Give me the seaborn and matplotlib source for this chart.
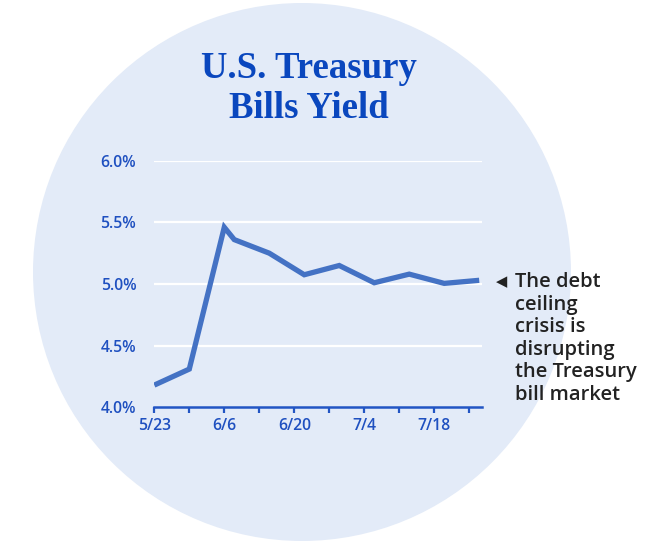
import matplotlib
matplotlib.use("Agg")
import matplotlib.pyplot as plt
from matplotlib.patches import Circle
import numpy as np
import pandas as pd
import seaborn as sns

# ---- data ----
dates = ["2023-05-23", "2023-05-30", "2023-06-06", "2023-06-08", "2023-06-15",
         "2023-06-22", "2023-06-29", "2023-07-06", "2023-07-13", "2023-07-20",
         "2023-07-27"]
yields = [4.18, 4.31, 5.46, 5.36, 5.25, 5.075, 5.15, 5.01, 5.08, 5.005, 5.03]
major_ticks = ["2023-05-23", "2023-06-06", "2023-06-20", "2023-07-04", "2023-07-18"]
minor_ticks = ["2023-05-30", "2023-06-13", "2023-06-27", "2023-07-11", "2023-07-25"]
xtick_labels = ["5/23", "6/6", "6/20", "7/4", "7/18"]
ytick_values = [4.0, 4.5, 5.0, 5.5, 6.0]
ytick_labels = ["4.0%", "4.5%", "5.0%", "5.5%", "6.0%"]
title_lines = ["U.S. Treasury", "Bills Yield"]
note = "The debt\nceiling\ncrisis is\ndisrupting\nthe Treasury\nbill market"

df = pd.DataFrame({"date": pd.to_datetime(dates), "yield": yields})

sns.set_theme(style="white")
plt.rcParams["font.family"] = ["Open Sans", "DejaVu Sans"]

W, H = 658, 542
fig = plt.figure(figsize=(W / 100, H / 100), dpi=100)
fig.patch.set_facecolor("white")

# background circle
bg = fig.add_axes([0, 0, 1, 1])
bg.set_xlim(0, W)
bg.set_ylim(H, 0)
bg.axis("off")
bg.add_patch(Circle((302, 272), 269, facecolor="#E3EBF8", edgecolor="none"))

BLUE_TXT = "#1F50C0"
LINE = "#4472C4"
AXIS_BLUE = "#2255C4"

# main axes
x0, x1 = 154.3, 481.7
ytop, ybot = 160.7, 407.3
ax = fig.add_axes([x0 / W, 1 - ybot / H, (x1 - x0) / W, (ybot - ytop) / H])
ax.set_facecolor("none")

sns.lineplot(data=df, x="date", y="yield", ax=ax, color=LINE, linewidth=3.8,
             solid_joinstyle="miter", solid_capstyle="butt")

ax.set_xlim(pd.Timestamp("2023-05-23"), pd.Timestamp("2023-07-27 12:00"))
ax.set_ylim(4.0, 6.0)

for v in ytick_values[1:]:
    ax.axhline(v, color="white", linewidth=1.6, zorder=0)

ax.set_yticks(ytick_values)
ax.set_yticklabels(ytick_labels)
ax.set_xticks(pd.to_datetime(major_ticks))
ax.set_xticklabels(xtick_labels)
ax.set_xticks(pd.to_datetime(minor_ticks), minor=True)

ax.tick_params(axis="y", length=0, pad=13, labelsize=11.3, labelcolor=BLUE_TXT)
ax.tick_params(axis="x", which="both", direction="out", length=4, width=1.6,
               color=AXIS_BLUE, bottom=True, pad=4, labelsize=11.3, labelcolor=BLUE_TXT)
for lab in ax.get_xticklabels() + ax.get_yticklabels():
    lab.set_fontweight(600)

for s in ["top", "right", "left"]:
    ax.spines[s].set_visible(False)
ax.spines["bottom"].set_color(AXIS_BLUE)
ax.spines["bottom"].set_linewidth(1.8)
ax.set_xlabel("")
ax.set_ylabel("")
ax.grid(False)

# title
for i, line in enumerate(title_lines):
    bg.text(309, 78 + 40 * i, line, ha="center", va="baseline", fontsize=26.5,
            fontweight="bold", color="#0A47BE", family=["Liberation Serif"])

# annotation
bg.text(496, 282, "\u25C0", ha="left", va="center", fontsize=10.5, color="#222222",
        family=["DejaVu Sans"])
bg.text(515, 272, note, ha="left", va="top", fontsize=14.5, color="#222222",
        fontweight=600, linespacing=1.17)

fig.savefig("out.png", dpi=100)
